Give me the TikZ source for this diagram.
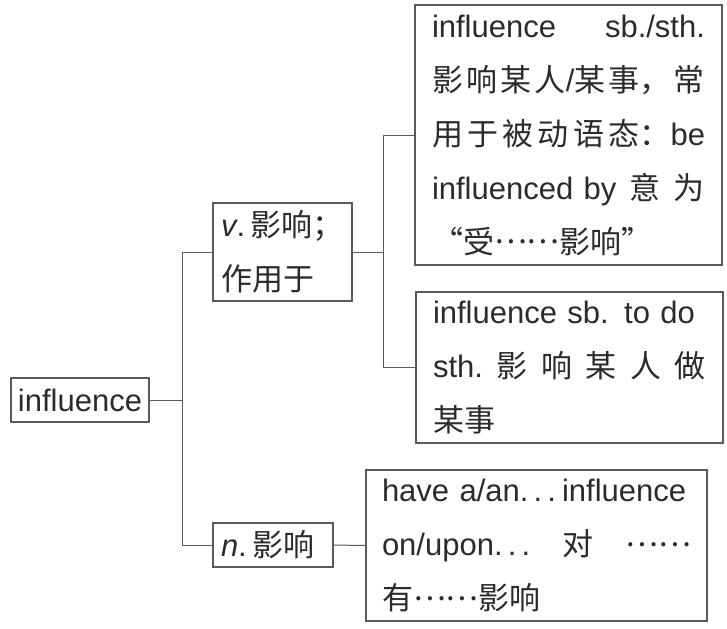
\documentclass[tikz,border=0pt]{standalone}
\usepackage{fontspec}
\setmainfont{Liberation Sans}
\newfontfamily\cjk{Noto Sans CJK SC}
\newcommand{\zw}[1]{{\cjk #1}}
\newcommand{\lignej}[1]{\makebox[\linewidth][s]{#1}}
\newcommand{\pointil}{\raisebox{.3em}{\zw{……}}}
\definecolor{encre}{HTML}{2B2B2B}
\definecolor{trait}{HTML}{5A5A5A}
\tikzset{
  boite/.style={draw=trait, line width=0.7pt, inner ysep=0pt, align=left,
    text=encre, font=\fontsize{15.5}{27}\selectfont},
  branche/.style={draw=trait, line width=0.5pt}
}
\begin{document}
\begin{tikzpicture}[x=0.5pt, y=-0.5pt]
				\useasboundingbox (0,0) rectangle (727,628);
				%Noeuds de l'arbre
				\node[boite, align=center, inner xsep=0pt, minimum width=69pt, minimum height=22pt] (R0) at (80,400) {influence};
				\node[boite, inner xsep=4pt, text width=61.5pt, minimum height=49pt] (V1) at (282.5,252) {\mbox{\textit{v}.\,\zw{影响；}}\\\zw{作用于}};
				\node[boite, inner xsep=4pt, text width=52pt, minimum height=22pt] (N1) at (273,545) {\textit{n}.\,\zw{影响}};
				\node[boite, inner xsep=8.5pt, text width=136.5pt, minimum height=130pt] (B1) at (568.5,135) {\lignej{influence\hfill sb./sth.}\\
					\lignej{\zw{影\hfill 响\hfill 某\hfill 人}/\zw{某\hfill 事，\hfill 常}}\\
					\lignej{\zw{用\hfill 于\hfill 被\hfill 动\hfill 语\hfill 态：}be}\\
					\lignej{influenced by\hfill \zw{意}\hfill \zw{为}}\\
					\zw{“受}\pointil\zw{影响”}};
				\node[boite, inner xsep=8.5pt, text width=136.5pt, minimum height=75.5pt] (B2) at (569.5,367.5) {\lignej{influence sb. to do}\\
					\lignej{sth.\hfill \zw{影\hfill 响\hfill 某\hfill 人\hfill 做}}\\
					\zw{某事}};
				\node[boite, inner xsep=8pt, text width=154.5pt, minimum height=75.5pt] (B3) at (536.5,545.5) {\lignej{have a/an.\,.\,.\hspace{3pt}influence}\\
					\lignej{on/upon.\,.\,.\hfill \zw{对}\hfill \pointil}\\
					\zw{有}\pointil\zw{影响}};
				\coordinate (J1) at (182,400);
				\coordinate (J2) at (383,252);
				%Branches
				\draw[branche] (R0.east) -- (J1);
				\draw[branche] (J1) |- (V1.west);
				\draw[branche] (J1) |- (N1.west);
				\draw[branche] (V1.east) -- (J2);
				\draw[branche] (J2) |- (B1.west);
				\draw[branche] (J2) |- (B2.west);
				\draw[branche] (N1.east) -- (B3.west);
			\end{tikzpicture}
\end{document}
